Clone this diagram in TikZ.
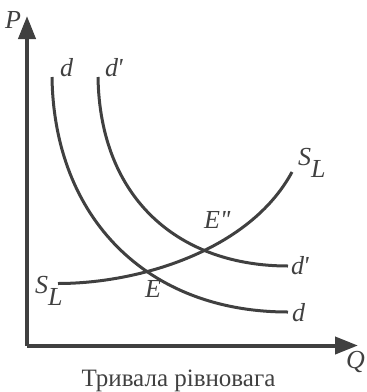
\documentclass[tikz,border=0pt]{standalone}
\usepackage{fontspec}
\usepackage{graphicx}
\setmainfont{Liberation Serif}
\usetikzlibrary{arrows.meta}
\definecolor{ink}{HTML}{404040}
\begin{document}
\begin{tikzpicture}[x=1pt,y=-1pt,
  axis/.style={draw=ink,line width=4pt,-{Triangle[length=23pt,width=17pt]}},
  curve/.style={draw=ink,line width=3pt},
  lbl/.style={inner sep=0pt,text=ink,font=\fontsize{26}{30}\selectfont\itshape,anchor=base west},
  ttl/.style={inner sep=0pt,text=ink,font=\fontsize{25}{29}\selectfont,anchor=base}]
\useasboundingbox (0,0) rectangle (367,392);
% axes
\coordinate (O) at (27,345.5);
\coordinate (Ptip) at (27,16);
\coordinate (Qtip) at (358,345.5);
\draw[axis] (O) -- (Ptip);
\draw[axis] (O) -- (Qtip);
% curves
\coordinate (d1) at (52,77);
\coordinate (d2) at (288,312);
\coordinate (dp1) at (98,77);
\coordinate (dp2) at (288,266);
\coordinate (s1) at (58,283.5);
\coordinate (s2) at (292,172);
\draw[curve] (d1) .. controls (54,218) and (147,312) .. (d2);
\draw[curve] (dp1) .. controls (100,200) and (180,266) .. (dp2);
\draw[curve] (s1) .. controls (140,283.5) and (250,250) .. (s2);
% labels
\node[lbl] (P) at (5,28) {P};
\node[lbl] (Q) at (346,368) {Q};
\node[lbl] (dtop) at (60,76) {d};
\node[lbl] (dptop) at (105,76) {d\kern-1pt\textquotesingle};
\node[lbl] (Epp) at (204,228) {E\textquotesingle\kern-1pt\textquotesingle};
\node[lbl] (dpr) at (291,274) {d\kern-1pt\textquotesingle};
\node[lbl] (dr) at (292,321) {d};
\node[lbl] (E) at (145,297) {E};
\node[lbl] (SLl) at (35,293) {S\raisebox{-12pt}{L}};
\node[lbl] (SLu) at (298,165) {S\raisebox{-12pt}{L}};
\node[ttl] (title) at (178.5,386) {Тривала рівновага};
\end{tikzpicture}
\end{document}
